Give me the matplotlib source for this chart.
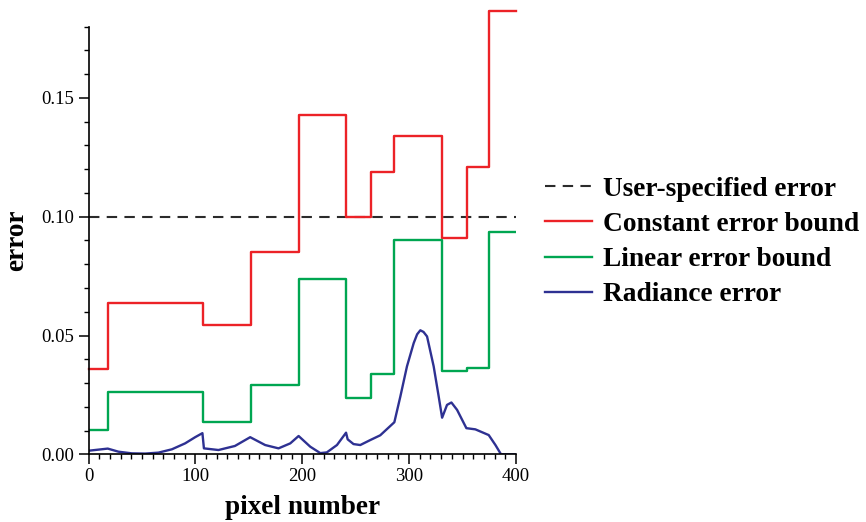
import matplotlib.pyplot as plt
from matplotlib.ticker import MultipleLocator, FormatStrFormatter

plt.rcParams['font.family'] = ['Liberation Serif', 'DejaVu Serif']

# step edges shared by both bounds (pixel number)
step_x = [0, 18, 107, 152, 197, 241, 264, 286, 331, 354, 375, 400]
constant_bound = [0.0361, 0.0637, 0.0546, 0.0852, 0.1430, 0.0997, 0.1190,
                  0.1339, 0.0911, 0.1209, 0.1866, 0.1866]
linear_bound = [0.0101, 0.0262, 0.0138, 0.0291, 0.0738, 0.0239, 0.0336,
                0.0900, 0.0349, 0.0365, 0.0934, 0.0934]

user_error = 0.10

rad_x = [0, 18, 28, 40.5, 53, 65.4, 78, 90.4, 99.8, 106.6, 108, 121.6, 137,
         151.3, 165.3, 177.8, 188.8, 196.6, 207.5, 216.9, 223, 232.5, 241,
         242.5, 248, 254.3, 263.7, 273, 286.2, 291.8, 298, 304.3, 307.5,
         310.5, 313.5, 316.8, 323, 327.7, 330.9, 335.5, 339.6, 344.9, 353.6,
         362, 374.5, 380.8, 386, 400]
rad_err = [0.0015, 0.0024, 0.0011, 0.0004, 0.0003, 0.0007, 0.0021, 0.0046,
           0.0072, 0.0089, 0.0025, 0.0018, 0.0035, 0.0072, 0.0039, 0.0025,
           0.0046, 0.0077, 0.0032, 0.0005, 0.0008, 0.0039, 0.0091, 0.0063,
           0.0043, 0.0039, 0.0060, 0.0080, 0.0135, 0.0243, 0.0370, 0.0468,
           0.0505, 0.0522, 0.0515, 0.0496, 0.0370, 0.0243, 0.0154, 0.0208,
           0.0218, 0.0187, 0.0110, 0.0105, 0.0081, 0.0039, 0.0, 0.0]

fig = plt.figure(figsize=(8.66, 5.22), dpi=100)
ax = fig.add_axes([0.1022, 0.1297, 0.4936, 0.8192])

ax.plot([0, 400], [user_error, user_error], ls=(0, (5, 3.5)), color='#2b2b2b',
        lw=1.5, label='User-specified error')
ax.step(step_x, constant_bound, where='post', color='#ec2227', lw=1.7,
        clip_on=False, label='Constant error bound')
ax.step(step_x, linear_bound, where='post', color='#00a651', lw=1.7,
        label='Linear error bound')
ax.plot(rad_x, rad_err, color='#2e3192', lw=1.7, label='Radiance error')

ax.set_xlim(0, 400)
ax.set_ylim(0, 0.18)
ax.spines['top'].set_visible(False)
ax.spines['right'].set_visible(False)
for s in ['left', 'bottom']:
    ax.spines[s].set_linewidth(1.2)

ax.xaxis.set_major_locator(MultipleLocator(100))
ax.xaxis.set_minor_locator(MultipleLocator(10))
ax.yaxis.set_major_locator(MultipleLocator(0.05))
ax.yaxis.set_minor_locator(MultipleLocator(0.01))
ax.yaxis.set_major_formatter(FormatStrFormatter('%.2f'))
ax.tick_params(which='major', direction='out', length=7, width=1.1,
               labelsize=13.5, pad=3)
ax.tick_params(which='minor', direction='out', length=3.5, width=1.0)

ax.set_xlabel('pixel number', fontsize=19.6, fontweight='bold')
ax.set_ylabel('error', fontsize=19.6, fontweight='bold')
ax.xaxis.set_label_coords(0.5, -0.095)
ax.yaxis.set_label_coords(-0.14, 0.5)

fig.legend(loc='center left', bbox_to_anchor=(545 / 866, 1 - 242 / 522),
           frameon=False, borderpad=0, borderaxespad=0, handlelength=1.72,
           handletextpad=0.4, labelspacing=0.36,
           prop={'size': 19.7, 'weight': 'bold'})

fig.savefig('out.png', dpi=100)
